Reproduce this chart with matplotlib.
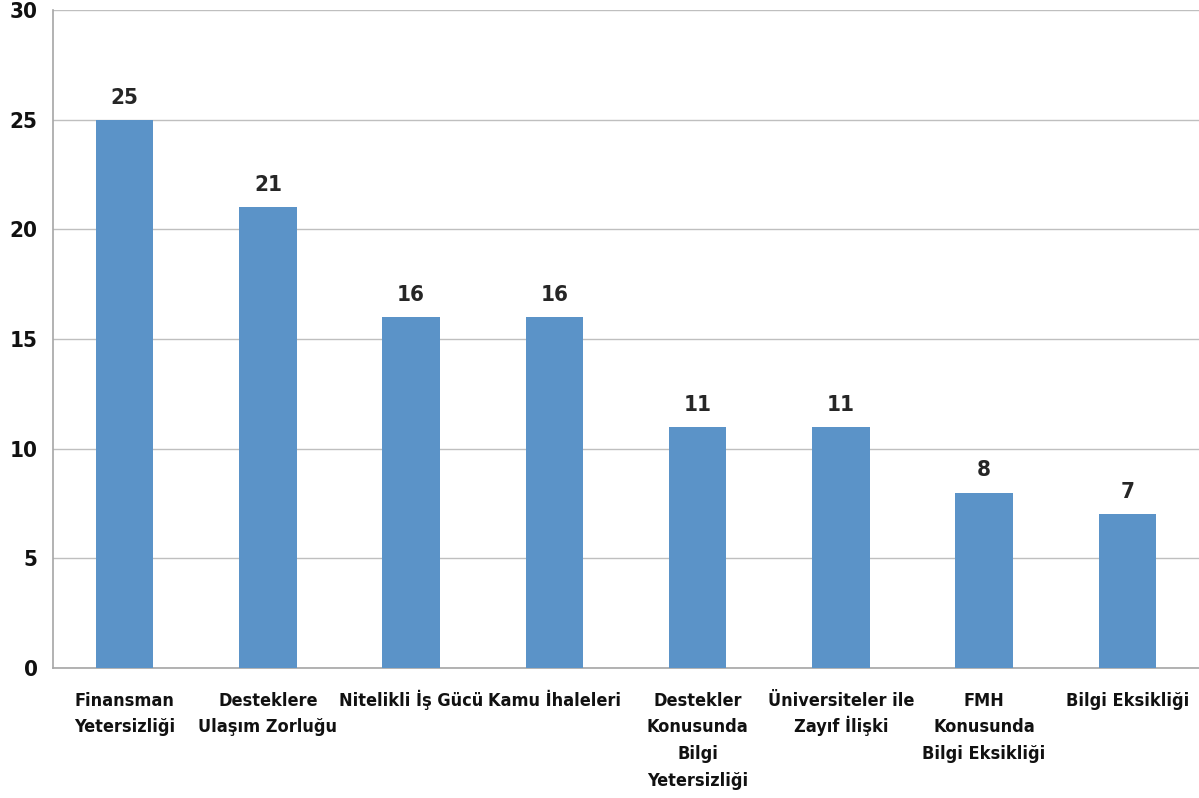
import matplotlib
matplotlib.use("Agg")
import matplotlib.pyplot as plt
from matplotlib.transforms import blended_transform_factory, ScaledTranslation

categories = ["Finansman\nYetersizliği", "Desteklere\nUlaşım Zorluğu", "Nitelikli İş Gücü",
              "Kamu İhaleleri", "Destekler\nKonusunda\nBilgi\nYetersizliği",
              "Üniversiteler ile\nZayıf İlişki", "FMH\nKonusunda\nBilgi Eksikliği", "Bilgi Eksikliği"]
values = [25, 21, 16, 16, 11, 11, 8, 7]
yticks = [0, 5, 10, 15, 20, 25, 30]

fp = dict(family="DejaVu Sans", stretch="condensed", weight="bold")

fig = plt.figure(figsize=(11.99, 7.98), dpi=100)
ax = fig.add_axes([53/1199, 1-668/798, 1-53/1199, (668-10)/798])
x = list(range(len(values)))
ax.bar(x, values, width=0.4, color="#5b93c8", zorder=3)
ax.set_xlim(-0.5, len(values)-0.5)
ax.set_ylim(0, 30)
ax.set_yticks(yticks)
ax.grid(axis="y", color="#bfbfbf", linewidth=1, zorder=0)
for s in ["top", "right"]:
    ax.spines[s].set_visible(False)
for s in ["left", "bottom"]:
    ax.spines[s].set_color("#a6a6a6")
    ax.spines[s].set_linewidth(1.2)
ax.tick_params(axis="both", length=0)
ax.tick_params(axis="y", pad=11)
ax.set_xticks(x)
ax.set_xticklabels([""] * len(x))
for lbl in ax.get_yticklabels():
    lbl.set_fontsize(16); lbl.set_fontweight("bold"); lbl.set_fontstretch("condensed")
    lbl.set_color("#111111")

# category labels, line by line so that the first baselines align
base = blended_transform_factory(ax.transData, ax.transAxes)
first_pt = 38 * 0.72
step_pt = 26.5 * 0.72
for xi, cat in zip(x, categories):
    for k, line in enumerate(cat.split("\n")):
        tr = base + ScaledTranslation(0, -(first_pt + k * step_pt) / 72, fig.dpi_scale_trans)
        ax.text(xi, 0, line, transform=tr, ha="center", va="baseline", fontsize=13,
                color="#111111", clip_on=False, **fp)

for xi, v in zip(x, values):
    ax.text(xi, v + 0.55, str(v), ha="center", va="bottom", fontsize=16, color="#262626", **fp)
fig.savefig("out.png", dpi=100)
